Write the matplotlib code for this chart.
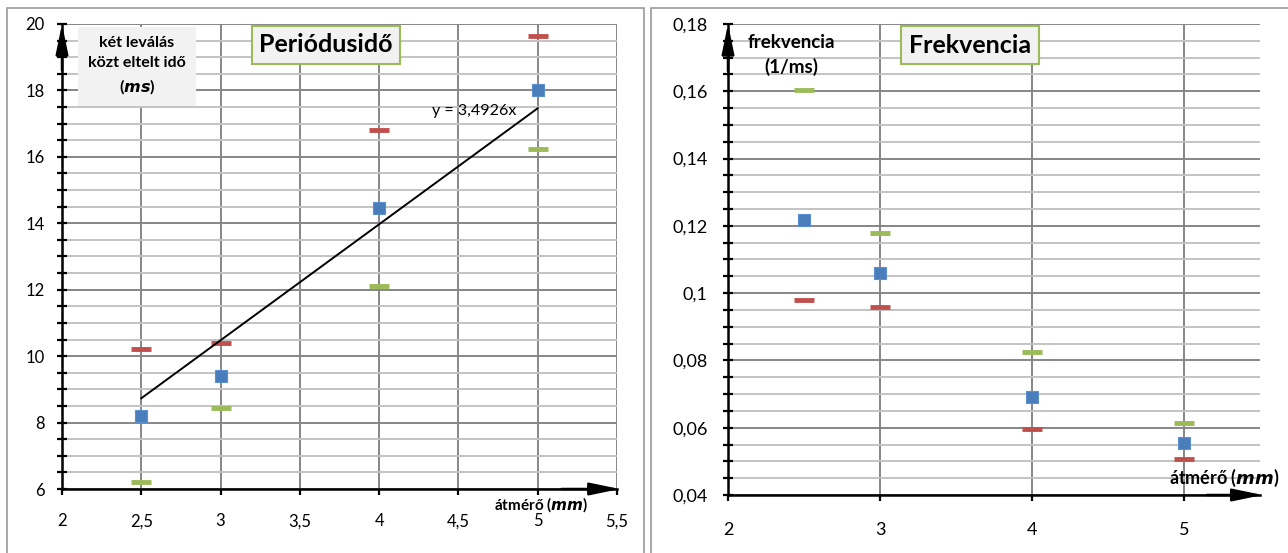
import numpy as np
import matplotlib
matplotlib.use("Agg")
import matplotlib.pyplot as plt
from matplotlib.ticker import MultipleLocator, FixedLocator, FuncFormatter
from matplotlib.patches import Rectangle

plt.rcParams['font.family'] = ['Lato', 'DejaVu Sans']

# data
atmero = [2.5, 3, 4, 5]
periodus_atlag = [8.2, 9.4, 14.45, 18.0]
periodus_piros = [10.2, 10.4, 16.8, 19.65]
periodus_zold = [6.22, 8.45, 12.1, 16.25]

frekv_atlag = [0.1217, 0.106, 0.069, 0.0556]
frekv_zold = [0.1605, 0.118, 0.0825, 0.0615]
frekv_piros = [0.098, 0.096, 0.0595, 0.0508]

trend_meredekseg = 3.4926
trend_x = [2.5, 5]

BLUE = '#4a7ebb'
RED = '#c0504d'
GREEN = '#9bbb59'
MAJ = '#868686'
MIN = '#c3c3c3'


def comma(v, pos):
    s = '{:g}'.format(round(v, 4))
    return s.replace('.', ',')


def style_axes(ax, fs, xpad, ypad):
    for s in ['top', 'right']:
        ax.spines[s].set_visible(False)
    for s in ['left', 'bottom']:
        ax.spines[s].set_linewidth(1.8)
        ax.spines[s].set_color('black')
    ax.tick_params(axis='y', which='both', direction='inout', length=7, width=1.6,
                   labelsize=fs, pad=ypad)
    ax.tick_params(axis='x', which='both', direction='out', length=4.5, width=1.6,
                   labelsize=fs, pad=xpad)
    ax.grid(axis='y', which='minor', color=MIN, lw=1.4, zorder=0)
    ax.grid(axis='y', which='major', color=MAJ, lw=1.4, zorder=0)
    ax.grid(axis='x', which='major', color=MAJ, lw=1.4, zorder=0)
    ax.set_axisbelow(True)
    arr = dict(arrowstyle='-|>,head_length=1.3,head_width=0.27', color='black',
               lw=1.8, mutation_scale=14, shrinkA=0, shrinkB=0)
    ax.annotate('', xy=(0, 1), xytext=(0, 0.9), xycoords='axes fraction', arrowprops=arr)
    ax.annotate('', xy=(1.005, 0), xytext=(0.9, 0), xycoords='axes fraction', arrowprops=arr)
    ax.xaxis.set_major_formatter(FuncFormatter(comma))
    ax.yaxis.set_major_formatter(FuncFormatter(comma))


def draw_points(ax, y_mid, y_red, y_green):
    ax.plot(atmero, y_red, ls='none', marker='_', ms=14, mew=3.5, color=RED, zorder=3)
    ax.plot(atmero, y_green, ls='none', marker='_', ms=14, mew=3.5, color=GREEN, zorder=3)
    ax.plot(atmero, y_mid, ls='none', marker='s', ms=8.5, mfc=BLUE, mec='#5b8fcf',
            mew=0.8, zorder=4)


W, H = 1288, 553
fig = plt.figure(figsize=(W / 100, H / 100), dpi=100)

# panel frames
for x0, x1 in [(7, 644), (651, 1300)]:
    fig.patches.append(Rectangle((x0 / W, 0 - 0.05), (x1 - x0) / W, (H - 8) / H + 0.05,
                                 transform=fig.transFigure, fill=False,
                                 edgecolor='#9a9a9a', lw=1.2))

# left panel
ax1 = fig.add_axes([62 / W, (H - 489) / H, 555 / W, 465 / H])
ax1.set_xlim(2, 5.5)
ax1.set_ylim(6, 20)
ax1.xaxis.set_major_locator(MultipleLocator(0.5))
ax1.yaxis.set_major_locator(MultipleLocator(2))
ax1.yaxis.set_minor_locator(MultipleLocator(0.5))
style_axes(ax1, 12, 13, 9)
draw_points(ax1, periodus_atlag, periodus_piros, periodus_zold)
tx = np.array(trend_x)
ax1.plot(tx, trend_meredekseg * tx, color='black', lw=1.4, zorder=3)
ax1.text(4.6, 17.38, 'y = 3,4926x', fontsize=11.5, ha='center', va='center')
ax1.text(0.135, 0.91, 'két leválás\nközt eltelt idő\n($\\mathbfit{ms}$)', transform=ax1.transAxes,
         ha='center', va='center', fontsize=11.5, fontweight='bold', linespacing=1.5,
         bbox=dict(boxstyle='square,pad=0.65', fc='#f2f2f2', ec='none'))
ax1.text(0.476, 0.955, 'Periódusidő', transform=ax1.transAxes, ha='center', va='center',
         fontsize=18, fontweight='bold',
         bbox=dict(boxstyle='square,pad=0.3', fc='#f2f2f2', ec=GREEN, lw=1.5))
ax1.text(0.948, -0.034, 'átmérő ($\\mathbfit{mm}$)', transform=ax1.transAxes, ha='right',
         va='center', fontsize=11, fontweight='bold')

# right panel
ax2 = fig.add_axes([728 / W, (H - 495) / H, 532 / W, 471 / H])
ax2.set_xlim(2, 5.5)
ax2.set_ylim(0.04, 0.18)
ax2.xaxis.set_major_locator(FixedLocator([2, 3, 4, 5]))
ax2.yaxis.set_major_locator(MultipleLocator(0.02))
ax2.yaxis.set_minor_locator(MultipleLocator(0.005))
style_axes(ax2, 13, 15, 11)
draw_points(ax2, frekv_atlag, frekv_piros, frekv_zold)
ax2.text(0.12, 0.934, 'frekvencia\n(1/ms)', transform=ax2.transAxes, ha='center', va='center',
         fontsize=13.5, fontweight='bold', linespacing=1.45)
ax2.text(0.455, 0.955, 'Frekvencia', transform=ax2.transAxes, ha='center', va='center',
         fontsize=18, fontweight='bold',
         bbox=dict(boxstyle='square,pad=0.3', fc='#f2f2f2', ec=GREEN, lw=1.5))
ax2.text(1.036, 0.036, 'átmérő ($\\mathbfit{mm}$)', transform=ax2.transAxes, ha='right',
         va='center', fontsize=13, fontweight='bold')

fig.savefig('out.png', dpi=100, facecolor='white')
